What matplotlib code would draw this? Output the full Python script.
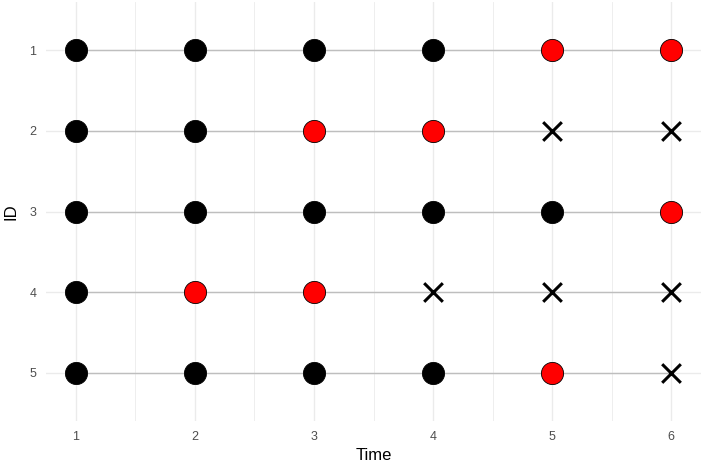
import matplotlib

matplotlib.use("Agg")
import matplotlib.pyplot as plt
import numpy as np

# data
times = [1, 2, 3, 4, 5, 6]
ids = [1, 2, 3, 4, 5]
# state per id, per time: "ok" = black dot, "event" = red dot, "gone" = cross
states = {
    1: ["ok", "ok", "ok", "ok", "event", "event"],
    2: ["ok", "ok", "event", "event", "gone", "gone"],
    3: ["ok", "ok", "ok", "ok", "ok", "event"],
    4: ["ok", "event", "event", "gone", "gone", "gone"],
    5: ["ok", "ok", "ok", "ok", "event", "gone"],
}

plt.rcParams["font.family"] = ["Liberation Sans", "DejaVu Sans"]

fig = plt.figure(figsize=(7.11, 4.76), dpi=100)
ax = fig.add_axes([0.0647, 0.1155, 0.9213, 0.8803])

for i in ids:
    ax.plot(times, [i] * len(times), color="#BEBEBE", lw=1.0, zorder=1)
    st = np.array(states[i])
    t = np.array(times)
    ax.scatter(t[st == "ok"], [i] * (st == "ok").sum(), s=255, c="black",
               edgecolors="black", linewidths=0.6, zorder=3)
    ax.scatter(t[st == "event"], [i] * (st == "event").sum(), s=255, c="#FF0000",
               edgecolors="black", linewidths=0.6, zorder=3)
    ax.scatter(t[st == "gone"], [i] * (st == "gone").sum(), s=180, c="black",
               marker="x", linewidths=2.2, zorder=3)

ax.set_xlim(0.75, 6.25)
ax.set_ylim(5.6, 0.4)
ax.set_xticks(times)
ax.set_xticks([1.5, 2.5, 3.5, 4.5, 5.5], minor=True)
ax.set_yticks(ids)
ax.grid(which="major", color="#EBEBEB", lw=1.0, zorder=0)
ax.grid(which="minor", axis="x", color="#EBEBEB", lw=0.6, zorder=0)
ax.set_axisbelow(True)
for sp in ax.spines.values():
    sp.set_visible(False)
ax.tick_params(which="both", length=0, labelsize=9, labelcolor="#4D4D4D", pad=7)
ax.set_xlabel("Time", fontsize=12, labelpad=4)
ax.set_ylabel("ID", fontsize=12, labelpad=8)

fig.savefig("out.png", dpi=100)
